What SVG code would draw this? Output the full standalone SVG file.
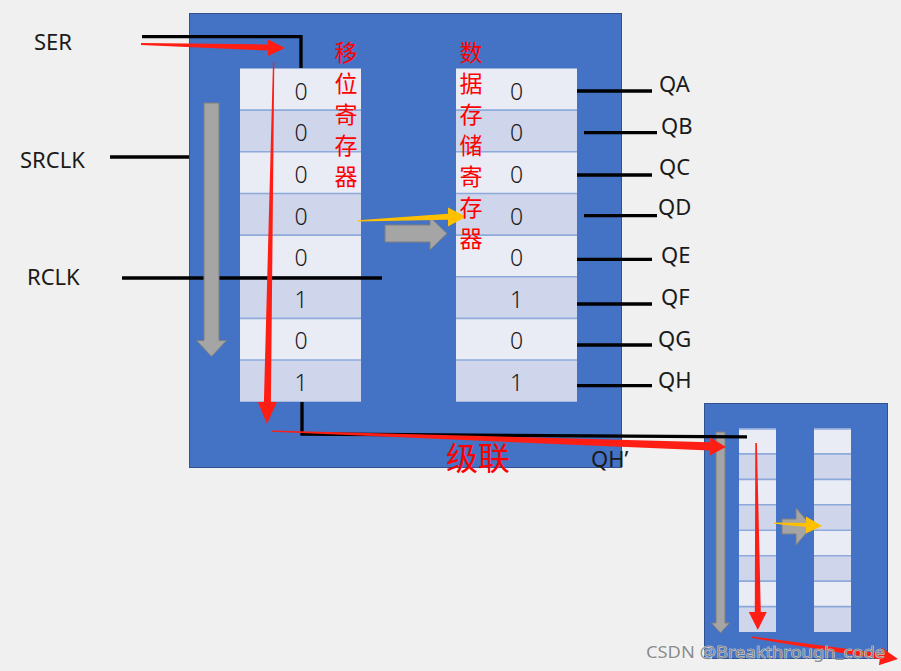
<svg xmlns="http://www.w3.org/2000/svg" width="901" height="671" viewBox="0 0 901 671">
<style>
.bg{fill:#f0f0f0}
.box{fill:#4472c4;stroke:#2f528f;stroke-width:1}
.lt{fill:#e9ebf5}
.dk{fill:#cfd5ea}
.sep{stroke:#8eaadb;stroke-width:1.6}
.dig{font-family:"Noto Sans","DejaVu Sans",sans-serif;font-size:23px;font-weight:300;fill:#1a1a1a;text-anchor:middle}
.lbl{font-family:"Noto Sans","DejaVu Sans",sans-serif;font-size:22px;fill:#1a1a1a}
.cn{font-family:"Noto Sans CJK SC","Noto Sans",sans-serif;font-size:23px;fill:#ff0000;text-anchor:middle}
.wire{fill:none;stroke:#000;stroke-width:3.3;stroke-linejoin:miter}
.gray{fill:#a5a5a5;stroke:#7f7f7f;stroke-width:1}
.red{fill:#ff1e14}
.yel{fill:#ffc000}
.wm{font-family:"Noto Sans","DejaVu Sans",sans-serif;font-size:17px;fill:#8a8a8a;stroke:#ffffff;stroke-width:0.6;paint-order:stroke}
</style>
<rect class="bg" x="0" y="0" width="901" height="671"/>

<g id="main-chip">
<rect class="box" x="189.5" y="13.5" width="432" height="454"/>
</g>

<g id="chip2">
<rect class="box" x="704.5" y="403.5" width="183" height="255"/>
<rect class="lt" x="739" y="428.5" width="37" height="25.4"/>
<rect class="dk" x="739" y="453.9" width="37" height="25.5"/>
<rect class="lt" x="739" y="479.4" width="37" height="25.4"/>
<rect class="dk" x="739" y="504.8" width="37" height="25.5"/>
<rect class="lt" x="739" y="530.3" width="37" height="25.4"/>
<rect class="dk" x="739" y="555.7" width="37" height="25.4"/>
<rect class="lt" x="739" y="581.1" width="37" height="25.5"/>
<rect class="dk" x="739" y="606.6" width="37" height="25.4"/>
<rect class="lt" x="814" y="428.5" width="37" height="25.4"/>
<rect class="dk" x="814" y="453.9" width="37" height="25.5"/>
<rect class="lt" x="814" y="479.4" width="37" height="25.4"/>
<rect class="dk" x="814" y="504.8" width="37" height="25.5"/>
<rect class="lt" x="814" y="530.3" width="37" height="25.4"/>
<rect class="dk" x="814" y="555.7" width="37" height="25.4"/>
<rect class="lt" x="814" y="581.1" width="37" height="25.5"/>
<rect class="dk" x="814" y="606.6" width="37" height="25.4"/>
<g class="sep">
<line x1="739" y1="429" x2="776" y2="429"/><line x1="739" y1="453.9" x2="776" y2="453.9"/><line x1="739" y1="479.4" x2="776" y2="479.4"/><line x1="739" y1="504.8" x2="776" y2="504.8"/><line x1="739" y1="530.3" x2="776" y2="530.3"/><line x1="739" y1="555.7" x2="776" y2="555.7"/><line x1="739" y1="581.1" x2="776" y2="581.1"/><line x1="739" y1="606.6" x2="776" y2="606.6"/>
<line x1="814" y1="429" x2="851" y2="429"/><line x1="814" y1="453.9" x2="851" y2="453.9"/><line x1="814" y1="479.4" x2="851" y2="479.4"/><line x1="814" y1="504.8" x2="851" y2="504.8"/><line x1="814" y1="530.3" x2="851" y2="530.3"/><line x1="814" y1="555.7" x2="851" y2="555.7"/><line x1="814" y1="581.1" x2="851" y2="581.1"/><line x1="814" y1="606.6" x2="851" y2="606.6"/>
</g>
<polygon class="gray" points="716,432 725,432 725,623 729.5,623 720.5,633 711.5,623 716,623"/>
<polygon class="gray" points="782,519 796,519 796,508 812,526.5 796,545 796,534 782,534"/>
</g>

<g id="shift-register">
<rect class="lt" x="240" y="68.5" width="121" height="41.65"/>
<rect class="dk" x="240" y="110.15" width="121" height="41.65"/>
<rect class="lt" x="240" y="151.8" width="121" height="41.65"/>
<rect class="dk" x="240" y="193.45" width="121" height="41.65"/>
<rect class="lt" x="240" y="235.1" width="121" height="41.65"/>
<rect class="dk" x="240" y="276.75" width="121" height="41.65"/>
<rect class="lt" x="240" y="318.4" width="121" height="41.65"/>
<rect class="dk" x="240" y="360.05" width="121" height="41.65"/>
<g class="sep">
<line x1="240" y1="110.15" x2="361" y2="110.15"/><line x1="240" y1="151.8" x2="361" y2="151.8"/><line x1="240" y1="193.45" x2="361" y2="193.45"/><line x1="240" y1="235.1" x2="361" y2="235.1"/><line x1="240" y1="276.75" x2="361" y2="276.75"/><line x1="240" y1="318.4" x2="361" y2="318.4"/><line x1="240" y1="360.05" x2="361" y2="360.05"/>
</g>
<text class="dig" x="301" y="99.5">0</text>
<text class="dig" x="301" y="141.2">0</text>
<text class="dig" x="301" y="182.8">0</text>
<text class="dig" x="301" y="224.5">0</text>
<text class="dig" x="301" y="266.1">0</text>
<text class="dig" x="301" y="307.8">1</text>
<text class="dig" x="301" y="349.4">0</text>
<text class="dig" x="301" y="391.1">1</text>
</g>

<g id="storage-register">
<rect class="lt" x="456" y="68.5" width="121" height="41.65"/>
<rect class="dk" x="456" y="110.15" width="121" height="41.65"/>
<rect class="lt" x="456" y="151.8" width="121" height="41.65"/>
<rect class="dk" x="456" y="193.45" width="121" height="41.65"/>
<rect class="lt" x="456" y="235.1" width="121" height="41.65"/>
<rect class="dk" x="456" y="276.75" width="121" height="41.65"/>
<rect class="lt" x="456" y="318.4" width="121" height="41.65"/>
<rect class="dk" x="456" y="360.05" width="121" height="41.65"/>
<g class="sep">
<line x1="456" y1="110.15" x2="577" y2="110.15"/><line x1="456" y1="151.8" x2="577" y2="151.8"/><line x1="456" y1="193.45" x2="577" y2="193.45"/><line x1="456" y1="235.1" x2="577" y2="235.1"/><line x1="456" y1="276.75" x2="577" y2="276.75"/><line x1="456" y1="318.4" x2="577" y2="318.4"/><line x1="456" y1="360.05" x2="577" y2="360.05"/>
</g>
<text class="dig" x="516.5" y="99.5">0</text>
<text class="dig" x="516.5" y="141.2">0</text>
<text class="dig" x="516.5" y="182.8">0</text>
<text class="dig" x="516.5" y="224.5">0</text>
<text class="dig" x="516.5" y="266.1">0</text>
<text class="dig" x="516.5" y="307.8">1</text>
<text class="dig" x="516.5" y="349.4">0</text>
<text class="dig" x="516.5" y="391.1">1</text>
</g>

<g id="labels">
<text class="lbl" x="34" y="50">SER</text>
<text class="lbl" x="20" y="168">SRCLK</text>
<text class="lbl" x="27" y="285">RCLK</text>
<text class="lbl" x="659" y="92">QA</text>
<text class="lbl" x="661" y="134">QB</text>
<text class="lbl" x="659" y="175">QC</text>
<text class="lbl" x="658" y="215">QD</text>
<text class="lbl" x="661" y="263">QE</text>
<text class="lbl" x="661" y="305">QF</text>
<text class="lbl" x="658" y="347">QG</text>
<text class="lbl" x="658" y="388">QH</text>
<text class="lbl" x="591" y="467">QH’</text>
</g>

<g id="connectors">
<polyline class="wire" points="142,36.7 301,36.7 301,68"/>
<line class="wire" x1="110" y1="157" x2="189" y2="157"/>
<line class="wire" x1="122" y1="278" x2="382" y2="278"/>
<line class="wire" x1="577" y1="91" x2="652" y2="91"/>
<line class="wire" x1="584" y1="132.7" x2="657" y2="132.7"/>
<line class="wire" x1="577" y1="175" x2="652" y2="175"/>
<line class="wire" x1="584" y1="215.7" x2="657" y2="215.7"/>
<line class="wire" x1="577" y1="259.3" x2="652" y2="259.3"/>
<line class="wire" x1="577" y1="304" x2="652" y2="304"/>
<line class="wire" x1="577" y1="345" x2="652" y2="345"/>
<line class="wire" x1="577" y1="385.7" x2="652" y2="385.7"/>
<polyline class="wire" points="302,402 302,434 747,436.8"/>
</g>

<g id="shift-arrows">
<polygon class="gray" points="204,103 219,103 219,340.5 226.5,340.5 211.5,356.5 196.5,340.5 204,340.5"/>
<polygon class="gray" points="385,225 430,225 430,217 447,233.5 430,250 430,242 385,242"/>
</g>

<g id="red-labels">
<text class="cn" x="346" y="61">移</text>
<text class="cn" x="346" y="92">位</text>
<text class="cn" x="346" y="123">寄</text>
<text class="cn" x="346" y="154">存</text>
<text class="cn" x="346" y="185">器</text>
<g id="transfer-arrow"><polygon class="yel" points="358,220.2 448,213.8 448,207.5 466,216.7 448,226.5 448,219.8 358,221.6"/></g>
<text class="cn" x="471" y="61">数</text>
<text class="cn" x="471" y="92">据</text>
<text class="cn" x="471" y="123">存</text>
<text class="cn" x="471" y="154">储</text>
<text class="cn" x="471" y="185">寄</text>
<text class="cn" x="471" y="216">存</text>
<text class="cn" x="471" y="247">器</text>
<text class="cn" x="478" y="470" style="font-size:32px">级联</text>
</g>

<g id="flow-arrows">
<polygon class="red" points="141,43 268,44.4 268,39.5 285,48 268,56 268,50.6 141,45"/>
<polygon class="red" points="273,62 274.3,62 270.9,402 276.9,402 267,424 257.9,402 263.9,402"/>
<polygon class="red" points="272,430.5 710.1,442.2 710.3,437.4 726,447 709.7,455.4 709.9,450.6 272,431.8"/>
<polygon class="yel" points="774,522.5 806,523 806,516.5 822,526 806,533.5 806,527 774,523.8"/>
<polygon class="red" points="755.3,443 756.9,443 760.8,612 766.8,612 757.8,630 748.8,612 754.8,612"/>
<polygon class="red" points="752,636.5 880.6,653.3 881.5,647.4 898,659 878.9,665.2 879.8,659.3 752,638"/>
</g>

<text class="wm" x="646" y="658" textLength="239" lengthAdjust="spacingAndGlyphs">CSDN @Breakthrough_code</text>
</svg>
